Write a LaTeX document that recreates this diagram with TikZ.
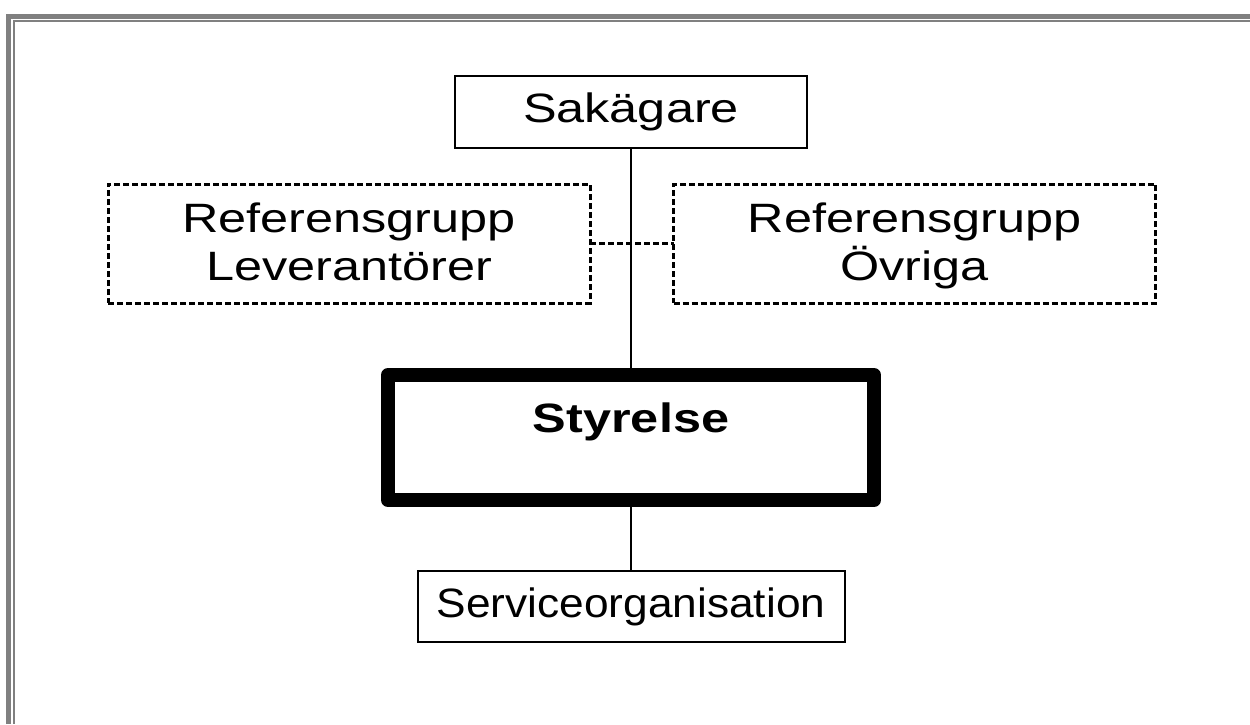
\documentclass[tikz,border=0pt]{standalone}
\usepackage{fontspec}
\setmainfont[FakeStretch=1.23]{Liberation Sans}
\newfontfamily\snugfont[FakeStretch=1.08]{Liberation Sans}
\definecolor{framegray}{RGB}{128,128,128}
\newcommand\lineh{\vphantom{Ög}}
\begin{document}
\begin{tikzpicture}[x=1pt,y=-1pt,
  every node/.style={inner sep=0pt,outer sep=0pt,font=\fontsize{41}{48}\selectfont},
  plainbox/.style={draw,line width=2pt,fill=white},
  refbox/.style={draw,line width=3pt,dash pattern=on 6pt off 3pt,align=center,
                 minimum width=482pt,minimum height=119pt},
  boardbox/.style={draw,line width=14pt,line join=round,
                   minimum width=486pt,minimum height=125pt},
  link/.style={line width=2.5pt},
  reflink/.style={line width=3pt,dash pattern=on 6pt off 3pt}]
  \useasboundingbox (0,0) rectangle (1250,724);
  % double page frame, open to the right and bottom
  \fill[framegray] (6,14) rectangle (1250,19);
  \fill[framegray] (6,14) rectangle (11,724);
  \fill[framegray] (13,20) rectangle (1250,22);
  \fill[framegray] (13,20) rectangle (15,724);
  % boxes
  \node[plainbox,minimum width=352pt,minimum height=72pt] (owner) at (631,112) {Sakägare};
  \node[refbox] (refsup) at (349,243.5) {\lineh Referensgrupp\\\lineh Leverantörer};
  \node[refbox] (refoth) at (914.5,243.5) {\lineh Referensgrupp\\\lineh Övriga};
  \node[boardbox] (board) at (631,437.5) {\raisebox{5.5pt}[0pt][0pt]{\bfseries Styrelse}};
  \node[plainbox,minimum width=427pt,minimum height=71pt,
        font=\fontsize{41}{48}\selectfont\snugfont] (service) at (631,606.5) {Serviceorganisation};
  % connectors
  \draw[reflink] (refsup.east) -- (refoth.west);
  \draw[link] (owner.south) -- (board.north);
  \draw[link] (board.south) -- (service.north);
\end{tikzpicture}
\end{document}
